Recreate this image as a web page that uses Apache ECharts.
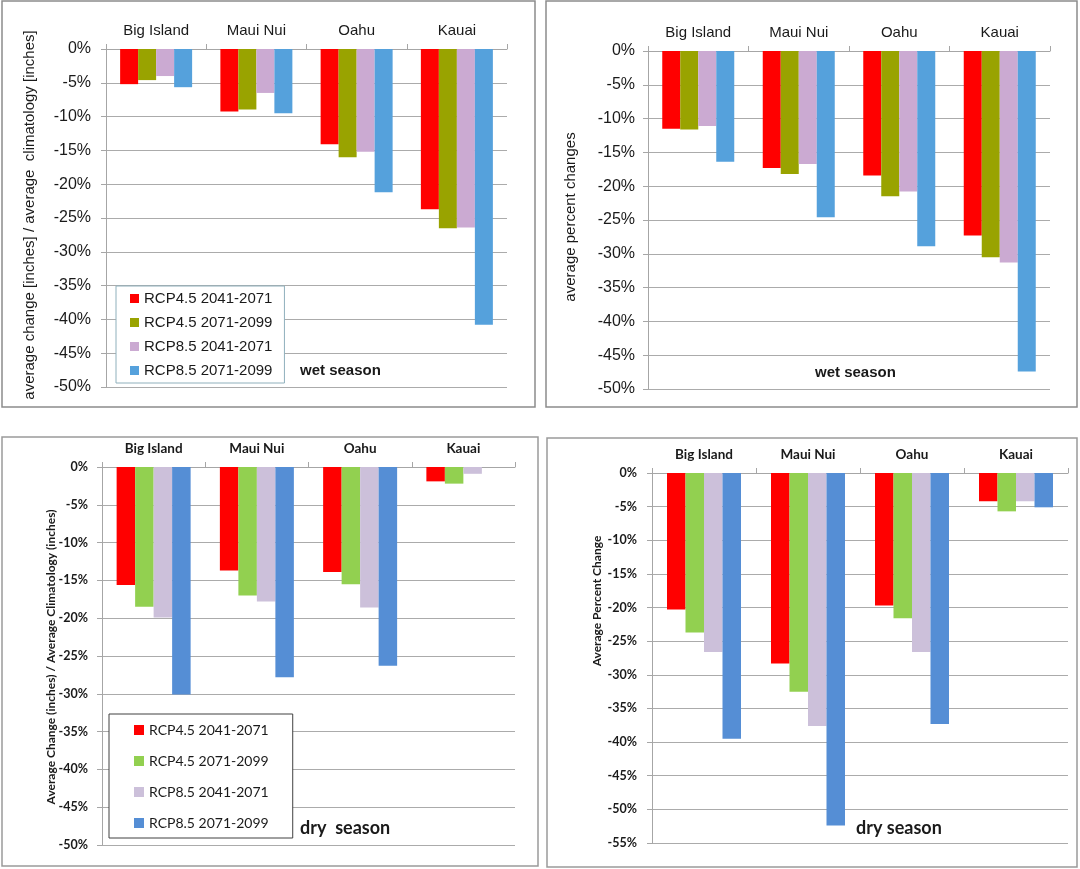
<!DOCTYPE html>
<html>
<head>
<meta charset="utf-8">
<script src="https://cdn.jsdelivr.net/npm/echarts@6/dist/echarts.min.js"></script>
<style>
html,body{margin:0;padding:0;background:#fff;}
#chart{width:1080px;height:869px;}
</style>
</head>
<body>
<div id="chart"></div>
<script>
const categories = ['Big Island', 'Maui Nui', 'Oahu', 'Kauai'];
const seriesNames = ['RCP4.5 2041-2071', 'RCP4.5 2071-2099', 'RCP8.5 2041-2071', 'RCP8.5 2071-2099'];

// wet season, average change / climatology (inches)
const wetInchRcp45Mid = [-5.2, -9.25, -14.1, -23.7];
const wetInchRcp45End = [-4.6, -8.95, -16.0, -26.5];
const wetInchRcp85Mid = [-4.0, -6.5, -15.2, -26.4];
const wetInchRcp85End = [-5.65, -9.5, -21.2, -40.8];
// wet season, average percent changes
const wetPctRcp45Mid = [-11.5, -17.3, -18.4, -27.3];
const wetPctRcp45End = [-11.6, -18.2, -21.5, -30.5];
const wetPctRcp85Mid = [-11.1, -16.7, -20.8, -31.3];
const wetPctRcp85End = [-16.4, -24.6, -28.9, -47.4];
// dry season, average change / climatology (inches)
const dryInchRcp45Mid = [-15.6, -13.7, -13.9, -1.9];
const dryInchRcp45End = [-18.5, -17.0, -15.5, -2.2];
const dryInchRcp85Mid = [-19.9, -17.8, -18.6, -0.9];
const dryInchRcp85End = [-30.1, -27.8, -26.3, null];
// dry season, average percent change
const dryPctRcp45Mid = [-20.3, -28.3, -19.7, -4.2];
const dryPctRcp45End = [-23.7, -32.5, -21.6, -5.7];
const dryPctRcp85Mid = [-26.6, -37.6, -26.6, -4.2];
const dryPctRcp85End = [-39.5, -52.4, -37.3, -5.1];

const wetColors = ['#FF0000', '#99A300', '#CBAAD2', '#55A1DC'];
const dryColors = ['#FF0000', '#92D050', '#CCC0DA', '#558ED5'];

const topFont = 'Liberation Sans, Arial, sans-serif';
const botFont = 'Lato, "Noto Sans", sans-serif';

const chart = echarts.init(document.getElementById('chart'), null, {renderer: 'canvas'});

function xAx(gi, font, size, bold) {
  return {
    type: 'category', gridIndex: gi, data: categories, position: 'top',
    axisLine: {show: true, onZero: false, lineStyle: {color: '#a6a6a6', width: 1}},
    axisTick: {show: true, length: 5, lineStyle: {color: '#a6a6a6'}},
    axisLabel: {margin: 11, fontFamily: font, fontSize: size, fontWeight: bold ? 'bold' : 'normal', color: '#1a1a1a'},
    splitLine: {show: false}
  };
}
function yAx(gi, min, font, size, bold, margin) {
  return {
    type: 'value', gridIndex: gi, min: min, max: 0, interval: 5,
    axisLine: {show: true, lineStyle: {color: '#a6a6a6', width: 1}},
    axisTick: {show: true, length: 5, lineStyle: {color: '#a6a6a6'}},
    axisLabel: {margin: margin, fontFamily: font, fontSize: size, fontWeight: bold ? 'bold' : 'normal', color: '#1a1a1a', formatter: v => v + '%'},
    splitLine: {show: true, lineStyle: {color: '#ababab', width: 1}}
  };
}
function bars(gi, datas, colors, bw) {
  return datas.map((d, i) => ({
    type: 'bar', name: seriesNames[i], xAxisIndex: gi, yAxisIndex: gi, data: d,
    barWidth: bw, barGap: '0%', itemStyle: {color: colors[i]}
  }));
}

const series = [].concat(
  bars(0, [wetInchRcp45Mid, wetInchRcp45End, wetInchRcp85Mid, wetInchRcp85End], wetColors, 18),
  bars(1, [wetPctRcp45Mid, wetPctRcp45End, wetPctRcp85Mid, wetPctRcp85End], wetColors, 18),
  bars(2, [dryInchRcp45Mid, dryInchRcp45End, dryInchRcp85Mid, dryInchRcp85End], dryColors, 18.5),
  bars(3, [dryPctRcp45Mid, dryPctRcp45End, dryPctRcp85Mid, dryPctRcp85End], dryColors, 18.5)
);

const option = {
  animation: false,
  backgroundColor: '#ffffff',
  grid: [
    {left: 106, top: 49, width: 401, height: 338},
    {left: 648, top: 51, width: 402, height: 338},
    {left: 102, top: 467, width: 413, height: 378},
    {left: 652, top: 473, width: 416, height: 370}
  ],
  xAxis: [xAx(0, topFont, 15, false), xAx(1, topFont, 15, false), xAx(2, botFont, 13.5, true), xAx(3, botFont, 13.5, true)],
  yAxis: [yAx(0, -50, topFont, 16, false, 15), yAx(1, -50, topFont, 16, false, 13), yAx(2, -50, botFont, 12.5, true, 14), yAx(3, -55, botFont, 12.5, true, 15)],
  legend: [
    {
      orient: 'vertical', left: 116, top: 286, itemWidth: 9, itemHeight: 9, itemGap: 9, icon: 'rect',
      padding: [5, 12, 5, 14], borderColor: '#8FB0BC', borderWidth: 1, backgroundColor: '#ffffff',
      textStyle: {fontFamily: topFont, fontSize: 15, color: '#1a1a1a', lineHeight: 15},
      data: seriesNames.map((n, i) => ({name: n, itemStyle: {color: wetColors[i]}})),
      selectedMode: false
    },
    {
      orient: 'vertical', left: 109, top: 714, itemWidth: 10, itemHeight: 10, itemGap: 17, icon: 'rect',
      padding: [9, 24, 8, 25], borderColor: '#404040', borderWidth: 1, backgroundColor: '#ffffff',
      textStyle: {fontFamily: botFont, fontSize: 14, color: '#1a1a1a', lineHeight: 14},
      data: seriesNames.map((n, i) => ({name: n, itemStyle: {color: dryColors[i]}})),
      selectedMode: false
    }
  ],
  graphic: [
    {type: 'rect', shape: {x: 2, y: 1, width: 533, height: 406}, style: {fill: 'none', stroke: '#8c8c8c', lineWidth: 1.5}, z: -1},
    {type: 'rect', shape: {x: 546, y: 1, width: 531, height: 406}, style: {fill: 'none', stroke: '#8c8c8c', lineWidth: 1.5}, z: -1},
    {type: 'rect', shape: {x: 2, y: 437, width: 536, height: 429}, style: {fill: 'none', stroke: '#9a9a9a', lineWidth: 1.5}, z: -1},
    {type: 'rect', shape: {x: 547, y: 438, width: 530, height: 429}, style: {fill: 'none', stroke: '#9a9a9a', lineWidth: 1.5}, z: -1},
    {type: 'text', x: 300, y: 371, style: {text: 'wet season', fontFamily: topFont, fontSize: 15, fontWeight: 'bold', fill: '#1a1a1a', textVerticalAlign: 'middle'}},
    {type: 'text', x: 815, y: 373, style: {text: 'wet season', fontFamily: topFont, fontSize: 15, fontWeight: 'bold', fill: '#1a1a1a', textVerticalAlign: 'middle'}},
    {type: 'text', x: 300, y: 828, style: {text: 'dry  season', fontFamily: botFont, fontSize: 18, fontWeight: 'bold', fill: '#1a1a1a', textVerticalAlign: 'middle'}},
    {type: 'text', x: 856, y: 828, style: {text: 'dry season', fontFamily: botFont, fontSize: 18, fontWeight: 'bold', fill: '#1a1a1a', textVerticalAlign: 'middle'}},
    {type: 'text', x: 30, y: 215, rotation: Math.PI / 2, style: {text: 'average change [inches] / average  climatology [inches]', fontFamily: topFont, fontSize: 15, fill: '#1a1a1a', textAlign: 'center', textVerticalAlign: 'middle'}},
    {type: 'text', x: 571, y: 217, rotation: Math.PI / 2, style: {text: 'average percent changes', fontFamily: topFont, fontSize: 15, fill: '#1a1a1a', textAlign: 'center', textVerticalAlign: 'middle'}},
    {type: 'text', x: 51, y: 657, rotation: Math.PI / 2, style: {text: 'Average Change (inches) / Average Climatology (inches)', fontFamily: botFont, fontSize: 12, fontWeight: 'bold', fill: '#1a1a1a', textAlign: 'center', textVerticalAlign: 'middle'}},
    {type: 'text', x: 597, y: 601, rotation: Math.PI / 2, style: {text: 'Average Percent Change', fontFamily: botFont, fontSize: 12, fontWeight: 'bold', fill: '#1a1a1a', textAlign: 'center', textVerticalAlign: 'middle'}}
  ],
  series: series
};
chart.setOption(option);
</script>
</body>
</html>
